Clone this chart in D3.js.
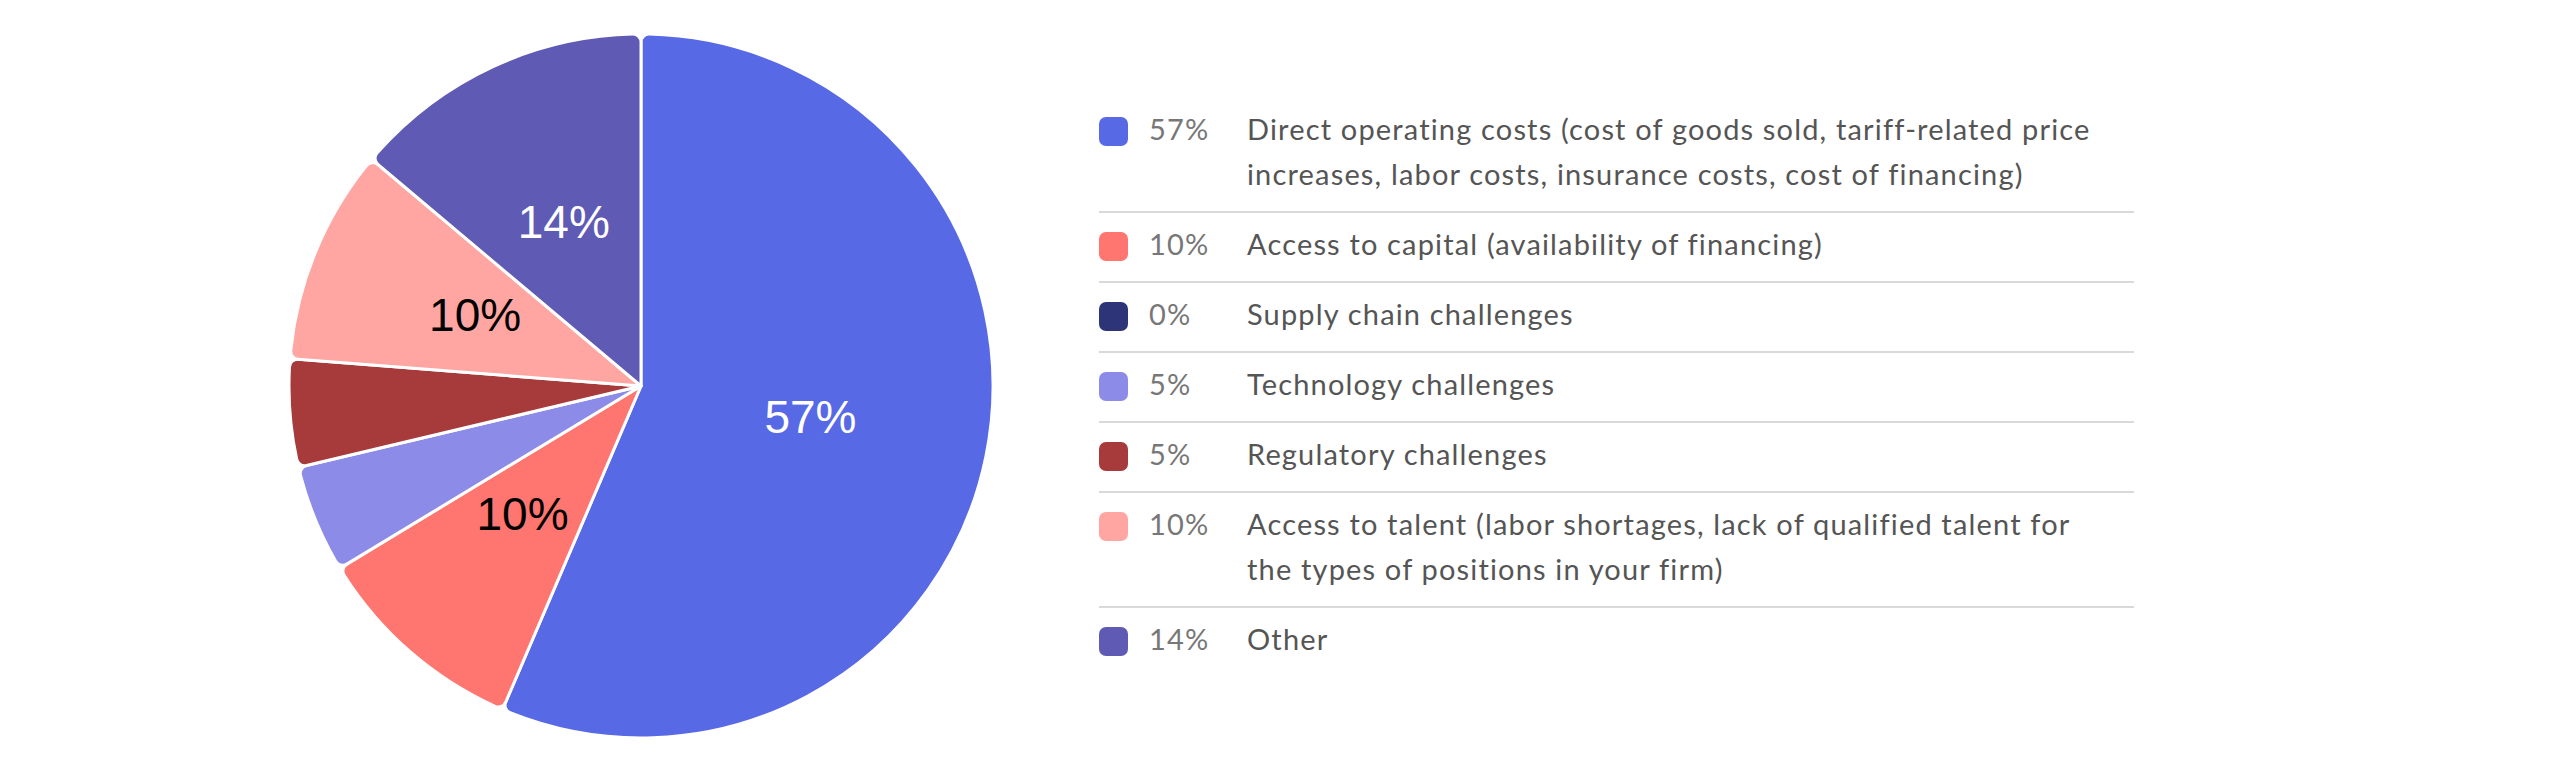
<!DOCTYPE html>
<html><head><meta charset="utf-8">
<script src="https://cdn.jsdelivr.net/npm/d3@7"></script>
<style>html,body{margin:0;padding:0;background:#fff;}svg{display:block;}</style>
</head><body>
<svg id="chart" width="2560" height="771"></svg>
<script>
const categories = [
  "Direct operating costs (cost of goods sold, tariff-related price|increases, labor costs, insurance costs, cost of financing)",
  "Access to capital (availability of financing)",
  "Supply chain challenges",
  "Technology challenges",
  "Regulatory challenges",
  "Access to talent (labor shortages, lack of qualified talent for|the types of positions in your firm)",
  "Other"
];
const values = [57, 10, 0, 5, 5, 10, 14];
const colors = ["#5869e6", "#ff7570", "#2e3478", "#8d8be8", "#a73a3a", "#ffa6a3", "#5f5ab3"];
const labelColors = ["#fff", "#000", "#000", "#000", "#000", "#000", "#fff"];
const showLabel = [true, true, false, false, false, true, true];

const svg = d3.select("#chart");
const cx = 641, cy = 386, R = 352;

const pie = d3.pie().sort(null).value(d => d.v);
const data = values.map((v, i) => ({v, i}));
const arcs = pie(data);
const arc = d3.arc().innerRadius(0).outerRadius(R).cornerRadius(8);
const labelArc = d3.arc().innerRadius(0).outerRadius(R);

const g = svg.append("g").attr("transform", `translate(${cx},${cy})`);
g.selectAll("path").data(arcs.filter(a => a.data.v > 0)).join("path")
  .attr("d", arc)
  .attr("fill", d => colors[d.data.i])
  .attr("stroke", "#fff").attr("stroke-width", 3).attr("stroke-linejoin", "round");

const pfs = 46;
g.selectAll("text").data(arcs.filter(a => showLabel[a.data.i])).join("text")
  .attr("transform", d => { const c = labelArc.centroid(d); return `translate(${c[0] - 3},${c[1] - 5 + pfs * 0.36})`; })
  .attr("text-anchor", "middle")
  .attr("font-family", "'Liberation Sans', Arial, sans-serif")
  .attr("font-size", pfs)
  .attr("fill", d => labelColors[d.data.i])
  .text(d => d.data.v + "%");

// Legend
const lg = svg.append("g");
const font = "Lato, 'Open Sans', sans-serif";
const fs = 29;
const xSw = 1099, xPct = 1149, xTxt = 1247, xEnd = 2134;
const targetW = 843;

// measure first line to determine letter spacing
const probeText = categories[0].split("|")[0];
const probe = lg.append("text").attr("font-family", font).attr("font-size", fs).text(probeText);
const w0 = probe.node().getComputedTextLength();
probe.remove();
const ls = (targetW - w0) / probeText.length;

let y = 97;
categories.forEach((c, i) => {
  const lines = c.split("|");
  const h = 70 + 45 * (lines.length - 1);
  const yb = y + 42.5;
  lg.append("rect").attr("x", xSw).attr("y", y + 20).attr("width", 29).attr("height", 29)
    .attr("rx", 7).attr("fill", colors[i]);
  lg.append("text").attr("x", xPct).attr("y", yb)
    .attr("font-family", font).attr("font-size", fs).attr("letter-spacing", ls).attr("fill", "#777").text(values[i] + "%");
  lines.forEach((l, k) => {
    lg.append("text").attr("x", xTxt).attr("y", yb + 45 * k)
      .attr("font-family", font).attr("font-size", fs).attr("letter-spacing", ls).attr("fill", "#555").text(l);
  });
  if (i < categories.length - 1) {
    lg.append("line").attr("x1", xSw).attr("x2", xEnd).attr("y1", y + h).attr("y2", y + h)
      .attr("stroke", "#d9d9d9").attr("stroke-width", 2);
  }
  y += h;
});
</script>
</body></html>
